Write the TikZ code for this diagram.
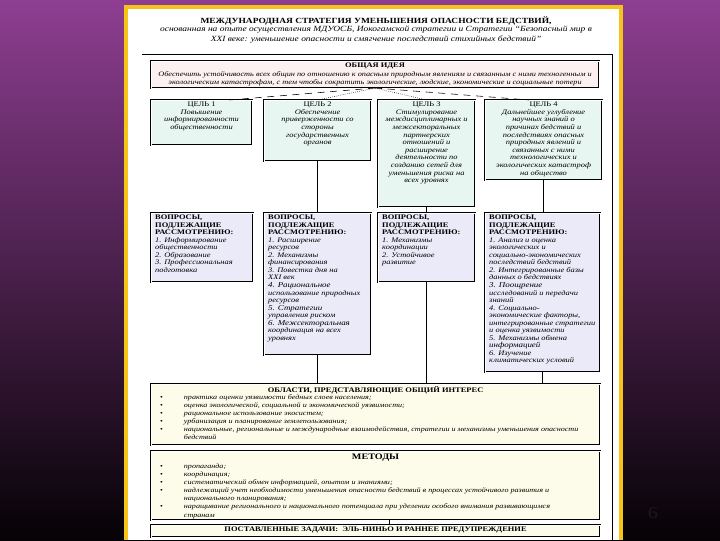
\documentclass[tikz,border=0pt]{standalone}
\usepackage{fontspec}
\setmainfont{Liberation Serif}[FakeStretch=1.2]
\usetikzlibrary{calc}

\definecolor{bgtop}{RGB}{142,62,145}
\definecolor{bgbot}{RGB}{5,2,5}
\definecolor{frameyellow}{RGB}{246,196,22}
\definecolor{ideafill}{RGB}{253,240,240}
\definecolor{goalfill}{RGB}{232,246,242}
\definecolor{askfill}{RGB}{234,234,248}
\definecolor{areafill}{RGB}{253,251,234}
\definecolor{numgray}{RGB}{32,22,32}

\newcommand{\fs}[2]{\fontsize{#1}{#2}\selectfont}
\newcommand{\hd}[1]{\textup{\bfseries #1}}
\newcommand{\lgit}{\fontsize{5.3}{5.4}\selectfont}
\newcommand{\bul}{\makebox[17pt][l]{\upshape\textbullet}}
\newcommand{\cnt}{\hspace*{17pt}}

\begin{document}
\begin{tikzpicture}[x=0.025cm, y=-0.025cm,
  every node/.style={inner sep=0pt, outer sep=0pt},
  panel/.style={draw, double, double distance=0.55pt, line width=0.45pt, anchor=north west},
  ideabox/.style={panel, fill=ideafill},
  goalbox/.style={panel, fill=goalfill},
  askbox/.style={panel, fill=askfill},
  areabox/.style={panel, fill=areafill},
  goaltext/.style={anchor=north, align=center, font=\fs{5}{5.4}\itshape},
  asktext/.style={anchor=north west, align=left, font=\fs{5}{5.35}\itshape},
  listtext/.style={anchor=north west, align=left, font=\fs{4.8}{5.7}\itshape},
  headtext/.style={anchor=north, font=\fs{5}{5.7}\bfseries},
  link/.style={line width=1.3pt},
  thinlink/.style={line width=0.5pt}]

  % slide background and frame
  \shade[top color=bgtop, bottom color=bgbot] (0,0) rectangle (720,540);
  \useasboundingbox (0,0) rectangle (720,540);
  \fill[frameyellow] (124,5) rectangle (623,540);
  \fill[white] (128,9) rectangle (619,540);

  \node[font=\fs{5.6}{6.7}\bfseries] (title) at (376,21)
    {МЕЖДУНАРОДНАЯ СТРАТЕГИЯ УМЕНЬШЕНИЯ ОПАСНОСТИ БЕДСТВИЙ,};
  \node[font=\fs{5.6}{6.7}\itshape, align=center, anchor=north] (subtitle) at (376,26)
    {основанная на опыте осуществления МДУОСБ, Иокогамской стратегии и Стратегии ``Безопасный мир в\\
     XXI веке: уменьшение опасности и смягчение последствий стихийных бедствий''};
  \draw[line width=0.6pt] (142,54) -- (612,54) -- (612,540);

  % general idea
  \node[ideabox, minimum width=11.2cm, minimum height=0.675cm] (idea) at (151,61) {};
  \node[headtext] (ideahead) at ([yshift=-1.6pt]idea.north) {ОБЩАЯ ИДЕЯ};
  \node[goaltext, font=\fs{4.9}{5.7}\itshape] (ideatxt) at ([yshift=-7.4pt]idea.north)
    {Обеспечить устойчивость всех общин по отношению к опасным природным явлениям и связанным с ними техногенным и\\
     экологическим катастрофам, с тем чтобы сократить экологические, людские, экономические и социальные потери};

  % goals
  \node[goalbox, minimum width=2.525cm, minimum height=1.125cm] (goal1) at (151,100) {};
  \node[goalbox, minimum width=2.675cm, minimum height=1.525cm] (goal2) at (264,100) {};
  \node[goalbox, minimum width=2.425cm, minimum height=2.675cm] (goal3) at (378,100) {};
  \node[goalbox, minimum width=2.925cm, minimum height=2.0cm] (goal4) at (485,100) {};

  \node[goaltext] (goal1txt) at ([yshift=-1.5pt]goal1.north)
    {\textup{ЦЕЛЬ 1}\\Повышение\\информированности\\общественности};
  \node[goaltext] (goal2txt) at ([yshift=-1.5pt]goal2.north)
    {\textup{ЦЕЛЬ 2}\\Обеспечение\\приверженности со\\стороны\\государственных\\органов};
  \node[goaltext] (goal3txt) at ([yshift=-1.5pt]goal3.north)
    {\textup{ЦЕЛЬ 3}\\Стимулирование\\междисциплинарных и\\межсекторальных\\партнерских\\отношений и\\расширение\\деятельности по\\созданию сетей для\\уменьшения риска на\\всех уровнях};
  \node[goaltext] (goal4txt) at ([yshift=-1.5pt]goal4.north)
    {\textup{ЦЕЛЬ 4}\\Дальнейшее углубление\\научных знаний о\\причинах бедствий и\\последствиях опасных\\природных явлений и\\связанных с ними\\технологических и\\экологических катастроф\\на общество};

  \draw[dash pattern=on 5pt off 4pt] (idea.south) -- ($(goal1.north)!.55!(goal1.north east)$);
  \draw[densely dotted] (idea.south) -- (goal2.north);
  \draw[densely dotted] (idea.south) -- (goal3.north);
  \draw[dash pattern=on 5pt off 4pt] (idea.south) -- ($(goal4.north)!.25!(goal4.north west)$);

  % issues
  \node[askbox, minimum width=2.55cm, minimum height=1.725cm] (issues1) at (151,213) {};
  \node[askbox, minimum width=2.675cm, minimum height=3.55cm] (issues2) at (264,213) {};
  \node[askbox, minimum width=2.425cm, minimum height=1.725cm] (issues3) at (378,213) {};
  \node[askbox, minimum width=2.875cm, minimum height=3.975cm] (issues4) at (485,213) {};

  \node[asktext] (issues1txt) at ([xshift=3pt,yshift=-1.5pt]issues1.north west)
    {\hd{ВОПРОСЫ,}\\\hd{ПОДЛЕЖАЩИЕ}\\\hd{РАССМОТРЕНИЮ:}\\1. Информирование\\общественности\\2. Образование\\3. Профессиональная\\подготовка};
  \node[asktext] (issues2txt) at ([xshift=3pt,yshift=-1.5pt]issues2.north west)
    {\hd{ВОПРОСЫ,}\\\hd{ПОДЛЕЖАЩИЕ}\\\hd{РАССМОТРЕНИЮ:}\\1. Расширение\\ресурсов\\2. Механизмы\\финансирования\\3. Повестка дня на\\XXI век\\{\lgit 4. Рациональное}\\использование природных\\ресурсов\\{\lgit 5. Стратегии}\\управления риском\\{\lgit 6. Межсекторальная}\\координация на всех\\уровнях};
  \node[asktext] (issues3txt) at ([xshift=3pt,yshift=-1.5pt]issues3.north west)
    {\hd{ВОПРОСЫ,}\\\hd{ПОДЛЕЖАЩИЕ}\\\hd{РАССМОТРЕНИЮ:}\\1. Механизмы\\координации\\2. Устойчивое\\развитие};
  \node[asktext] (issues4txt) at ([xshift=3pt,yshift=-1.5pt]issues4.north west)
    {\hd{ВОПРОСЫ,}\\\hd{ПОДЛЕЖАЩИЕ}\\\hd{РАССМОТРЕНИЮ:}\\1. Анализ и оценка\\экологических и\\социально-экономических\\последствий бедствий\\2. Интегрированные базы\\данных о бедствиях\\{\lgit 3. Поощрение}\\исследований и передачи\\знаний\\4. Социально-\\экономические факторы,\\{\fs{5}{5.4}интегрированные стратегии}\\и оценка уязвимости\\5. Механизмы обмена\\{\lgit информацией}\\6. Изучение\\климатических условий};

  % common areas, methods, tasks
  \node[areabox, minimum width=11.225cm, minimum height=1.525cm] (areas) at (151,384) {};
  \node[areabox, minimum width=11.225cm, minimum height=1.725cm] (methods) at (151,451) {};
  \node[areabox, minimum width=11.225cm, minimum height=0.3cm] (tasks) at (151,525) {};

  \node[headtext] (areashead) at ([yshift=-1.5pt]areas.north) {ОБЛАСТИ, ПРЕДСТАВЛЯЮЩИЕ ОБЩИЙ ИНТЕРЕС};
  \node[listtext] (areastxt) at ([xshift=6.4pt,yshift=-7.6pt]areas.north west)
    {\bul практика оценки уязвимости бедных слоев населения;\\
     \bul оценка экологической, социальной и экономической уязвимости;\\
     \bul рациональное использование экосистем;\\
     \bul урбанизация и планирование землепользования;\\
     \bul национальные, региональные и международные взаимодействия, стратегии и механизмы уменьшения опасности\\
     \cnt бедствий};
  \node[headtext, font=\fs{6}{6.5}\bfseries] (methodshead) at ([yshift=-1.8pt]methods.north) {МЕТОДЫ};
  \node[listtext] (methodstxt) at ([xshift=6.4pt,yshift=-9.4pt]methods.north west)
    {\bul пропаганда;\\
     \bul координация;\\
     \bul систематический обмен информацией, опытом и знаниями;\\
     \bul надлежащий учет необходимости уменьшения опасности бедствий в процессах устойчивого развития и\\
     \cnt национального планирования;\\
     \bul наращивание регионального и национального потенциала при уделении особого внимания развивающимся\\
     \cnt странам};
  \node[headtext] (taskstxt) at ([yshift=-1.6pt]tasks.north) {ПОСТАВЛЕННЫЕ ЗАДАЧИ:\ \ ЭЛЬ-НИНЬО И РАННЕЕ ПРЕДУПРЕЖДЕНИЕ};

  % connectors
  \draw[link] (goal2.south) -- (issues2.north);
  \draw[link] (issues2.south) -- (issues2.south |- areas.north);
  \draw[link] (goal3.south) -- (issues3.north);
  \draw[link] (issues3.south) -- (issues3.south |- areas.north);
  \draw[thinlink] (goal4.south) -- (goal4.south |- issues4.north);
  \draw[thinlink] (issues4.south) -- (issues4.south |- areas.north);
  \draw[thinlink] ([xshift=0.34cm]methods.south) -- ([xshift=0.34cm]methods.south |- tasks.north);

  \node[text=numgray, font=\fs{12}{12}] (pagenum) at (653,513) {6};
\end{tikzpicture}
\end{document}
